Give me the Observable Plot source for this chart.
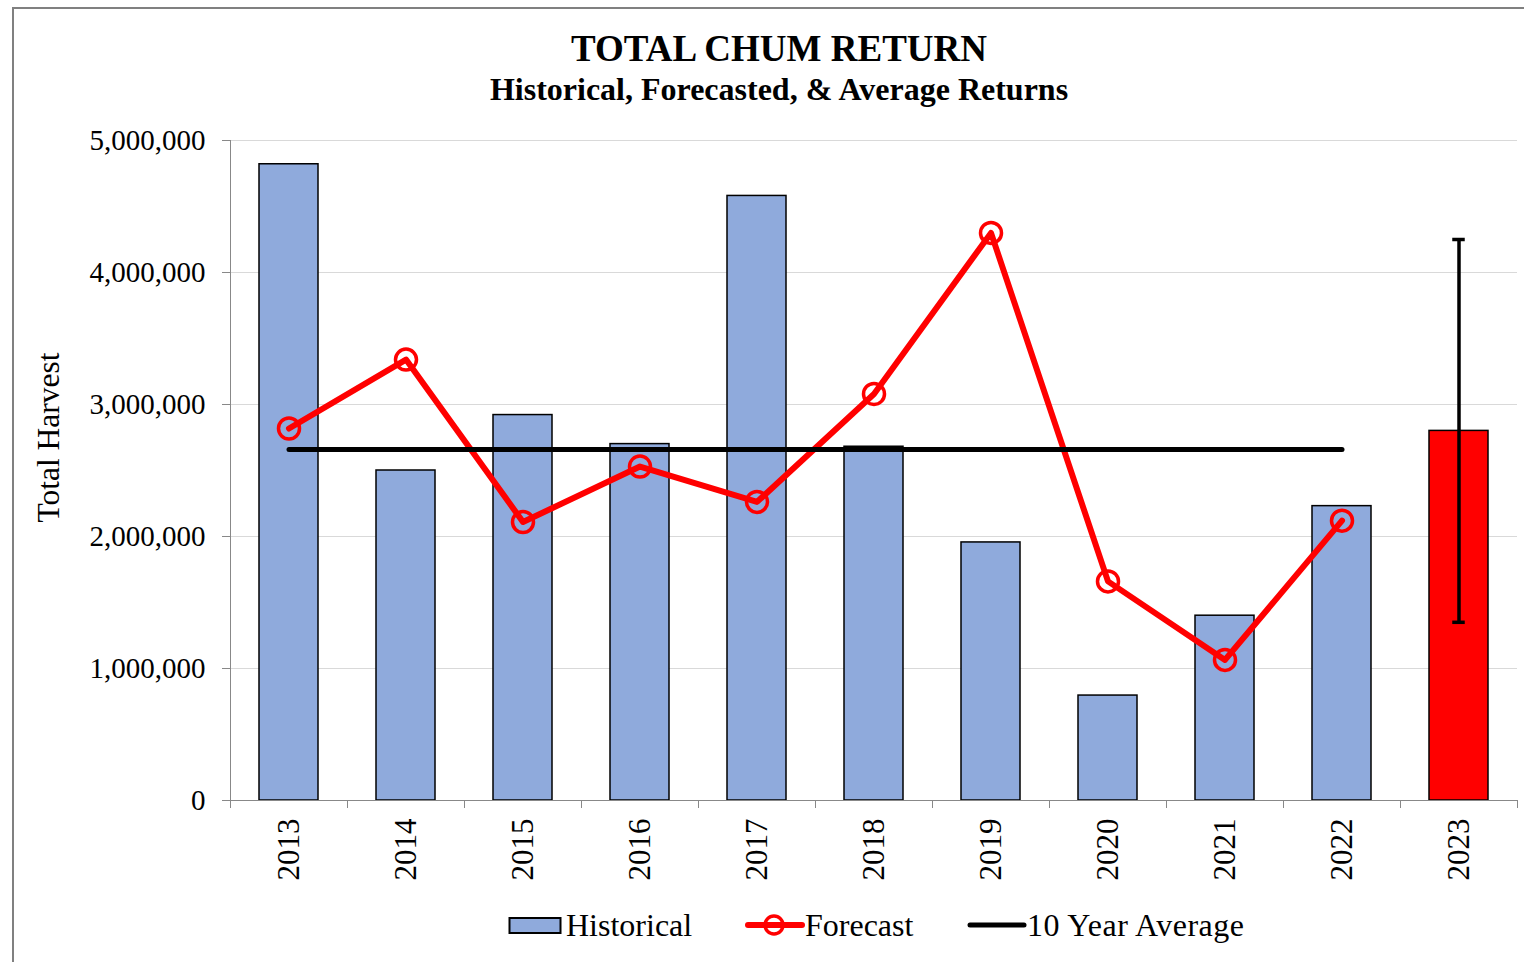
<!DOCTYPE html>
<html>
<head>
<meta charset="utf-8">
<script src="https://cdn.jsdelivr.net/npm/d3@7"></script>
<script src="https://cdn.jsdelivr.net/npm/@observablehq/plot@0.6"></script>
<style>
  html, body { margin: 0; padding: 0; background: #fff; overflow: hidden; }
  body { width: 1524px; height: 962px; position: relative; font-family: "Liberation Serif", "Times New Roman", serif; }
  #border { position: absolute; left: 12px; top: 7px; width: 1600px; height: 1100px; border: 2px solid #808080; box-sizing: border-box; }
  #chart { position: absolute; left: 0; top: 0; }
  #title { position: absolute; left: 0; width: 1558px; top: 28px; text-align: center; font-weight: bold; font-size: 37px; line-height: 42px; color: #000; }
  #subtitle { position: absolute; left: 0; width: 1558px; top: 71px; text-align: center; font-weight: bold; font-size: 32px; line-height: 36px; color: #000; }
  #legend { position: absolute; top: 905px; left: 0; height: 40px; font-size: 32px; color: #000; }
  .li { position: absolute; top: 0; display: flex; align-items: center; height: 40px; white-space: nowrap; }
  .li svg { display: block; }
</style>
</head>
<body>
<div id="border"></div>
<div id="chart"></div>
<div id="title">TOTAL CHUM RETURN</div>
<div id="subtitle">Historical, Forecasted, &amp; Average Returns</div>
<div id="legend">
  <div class="li" style="left:508px"><svg width="58" height="20"><rect x="1.5" y="3" width="51" height="15" fill="#8faadc" stroke="#000" stroke-width="2"/></svg><span>Historical</span></div>
  <div class="li" style="left:745px"><svg width="60" height="30"><line x1="3" y1="15" x2="57" y2="15" stroke="#ff0000" stroke-width="6" stroke-linecap="round"/><circle cx="29" cy="15" r="9" fill="none" stroke="#ff0000" stroke-width="3.5"/></svg><span>Forecast</span></div>
  <div class="li" style="left:967px"><svg width="60" height="30"><line x1="3" y1="15" x2="57" y2="15" stroke="#000" stroke-width="5" stroke-linecap="round"/></svg><span style="letter-spacing:0.5px">10 Year Average</span></div>
</div>
<script>
const years = ["2013","2014","2015","2016","2017","2018","2019","2020","2021","2022","2023"];
const historical = [4820000, 2500000, 2920000, 2700000, 4580000, 2680000, 1955000, 795000, 1400000, 2230000];
const forecastYears = ["2013","2014","2015","2016","2017","2018","2019","2020","2021","2022"];
const forecast = [2818000, 3340000, 2110000, 2530000, 2262000, 3080000, 4300000, 1660000, 1065000, 2120000];
const tenYearAverage = 2660000;
const forecast2023 = {year: "2023", value: 2800000, low: 1350000, high: 4250000};
const yTicks = [0, 1000000, 2000000, 3000000, 4000000, 5000000];

const histData = forecastYears.map((y, i) => ({year: y, value: historical[i]}));
const fcData = forecastYears.map((y, i) => ({year: y, value: forecast[i]}));
const avgData = forecastYears.map(y => ({year: y, value: tenYearAverage}));

const W = 1524, H = 962, mL = 230, mR = 7, mT = 140, mB = 162;
const step = (W - mL - mR) / years.length;

const chart = Plot.plot({
  width: W,
  height: H,
  marginLeft: mL,
  marginRight: mR,
  marginTop: mT,
  marginBottom: mB,
  style: {fontFamily: "'Liberation Serif', 'Times New Roman', serif", fontSize: "29px", color: "#000", background: "transparent"},
  x: {type: "band", domain: years, paddingInner: 0.5, paddingOuter: 0.25},
  y: {domain: [0, 5000000]},
  marks: [
    Plot.gridY(yTicks, {stroke: "#d9d9d9", strokeOpacity: 1, strokeWidth: 1}),
    Plot.axisY(yTicks, {tickSize: 8, tickPadding: 17, stroke: "#888", tickFormat: d3.format(","), label: null, fontSize: 29, fill: "#000"}),
    Plot.text(["Total Harvest"], {frameAnchor: "left", textAnchor: "middle", dx: -182, dy: -33, rotate: -90, fontSize: 31.5, fill: "#000"}),
    Plot.axisX(years, {tickSize: 8, dx: -step / 2, stroke: "#888", tickFormat: () => "", label: null}),
    Plot.axisX(["2023"], {tickSize: 8, dx: step / 2, stroke: "#888", tickFormat: () => "", label: null}),
    Plot.axisX(years, {tickSize: 0, tickPadding: 18, tickRotate: -90, label: null, fontSize: 31, fill: "#000"}),
    Plot.barY(histData, {x: "year", y: "value", fill: "#8faadc", stroke: "#000", strokeWidth: 1.5}),
    Plot.barY([forecast2023], {x: "year", y: "value", fill: "#ff0000", stroke: "#000", strokeWidth: 1.5}),
    Plot.frame({anchor: "left", stroke: "#888"}),
    Plot.frame({anchor: "bottom", stroke: "#888"}),
    Plot.ruleX([forecast2023], {x: "year", y1: "low", y2: "high", stroke: "#000", strokeWidth: 3.5}),
    Plot.tickY([forecast2023], {x: "year", y: "low", stroke: "#000", strokeWidth: 3.5, inset: (step * 0.5 - 12) / 2}),
    Plot.tickY([forecast2023], {x: "year", y: "high", stroke: "#000", strokeWidth: 3.5, inset: (step * 0.5 - 12) / 2}),
    Plot.lineY(fcData, {x: "year", y: "value", stroke: "#ff0000", strokeWidth: 6, strokeLinejoin: "round"}),
    Plot.dot(fcData, {x: "year", y: "value", r: 10.5, stroke: "#ff0000", strokeWidth: 3.5, fill: "none"}),
    Plot.lineY(avgData, {x: "year", y: "value", stroke: "#000", strokeWidth: 5, strokeLinecap: "round"})
  ]
});
document.getElementById("chart").appendChild(chart);
</script>
</body>
</html>
